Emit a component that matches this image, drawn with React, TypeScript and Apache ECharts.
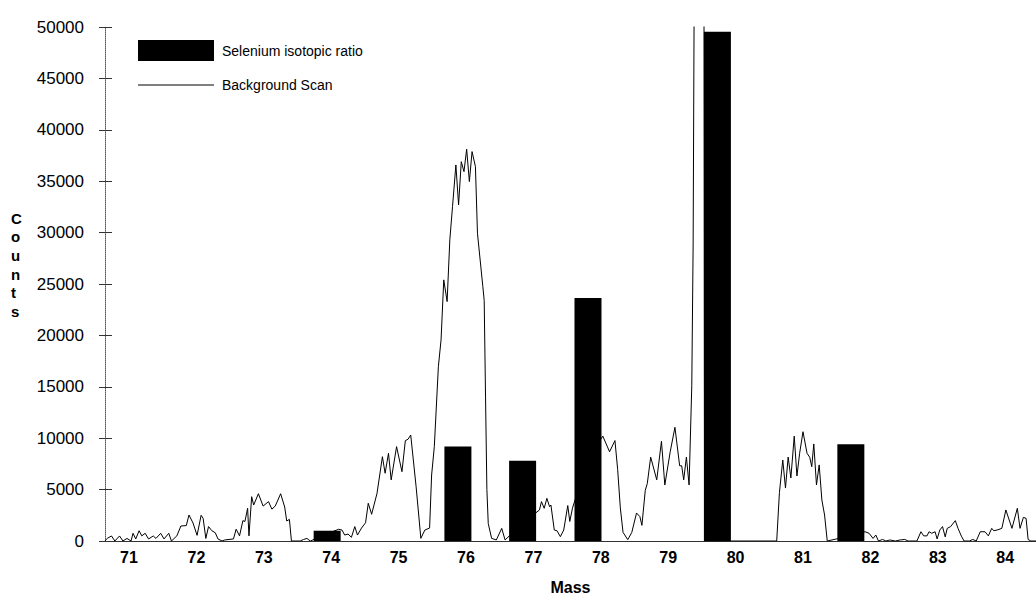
import React, { useEffect, useRef } from "react";
import * as echarts from "echarts";

const xTickLabels = [71, 72, 73, 74, 75, 76, 77, 78, 79, 80, 81, 82, 83, 84];
const yTicks = [0, 5000, 10000, 15000, 20000, 25000, 30000, 35000, 40000, 45000, 50000];

const barMass = [73.94, 75.88, 76.84, 77.81, 79.73, 81.71];
const barCounts = [1000, 9200, 7800, 23650, 49550, 9400];

const scanMass = [
  70.64, 70.68, 70.74, 70.79, 70.86, 70.91, 70.97, 71.03, 71.06, 71.10,
  71.15, 71.19, 71.24, 71.29, 71.36, 71.40, 71.47, 71.52, 71.59, 71.63,
  71.71, 71.77, 71.85, 71.89, 71.95, 72.01, 72.07, 72.10, 72.14, 72.18,
  72.23, 72.28, 72.32, 72.38, 72.42, 72.55, 72.59, 72.64, 72.69, 72.72,
  72.76, 72.78, 72.82, 72.85, 72.92, 72.99, 73.07, 73.12, 73.17, 73.25,
  73.31, 73.34, 73.38, 73.41, 73.54, 73.59, 73.64, 73.69, 73.90, 74.11,
  74.16, 74.20, 74.25, 74.30, 74.35, 74.39, 74.45, 74.51, 74.55, 74.60,
  74.68, 74.76, 74.80, 74.85, 74.89, 74.97, 75.05, 75.10, 75.14, 75.18,
  75.26, 75.33, 75.39, 75.46, 75.49, 75.53, 75.59, 75.63, 75.67, 75.72,
  75.76, 75.80, 75.85, 75.89, 75.93, 75.97, 76.01, 76.05, 76.09, 76.14,
  76.17, 76.25, 76.27, 76.29, 76.31, 76.33, 76.38, 76.45, 76.53, 76.58,
  76.80, 77.09, 77.12, 77.16, 77.20, 77.24, 77.26, 77.31, 77.35, 77.40,
  77.45, 77.51, 77.54, 77.58, 77.81, 78.03, 78.13, 78.21, 78.25, 78.29,
  78.33, 78.40, 78.46, 78.53, 78.58, 78.61, 78.66, 78.69, 78.74, 78.83,
  78.90, 78.95, 79.03, 79.10, 79.17, 79.20, 79.23, 79.27, 79.31, 79.35,
  79.37, 79.39, 79.53, 79.54, 80.61, 80.65, 80.70, 80.74, 80.78, 80.82,
  80.87, 80.91, 80.95, 81.00, 81.06, 81.10, 81.13, 81.16, 81.20, 81.24,
  81.28, 81.32, 81.36, 81.70, 81.92, 81.98, 82.04, 82.08, 82.12, 82.18,
  82.23, 82.29, 82.37, 82.44, 82.51, 82.56, 82.69, 82.75, 82.79, 82.84,
  82.87, 82.91, 82.96, 82.99, 83.03, 83.07, 83.11, 83.14, 83.19, 83.26,
  83.30, 83.35, 83.39, 83.47, 83.52, 83.57, 83.63, 83.70, 83.75, 83.80,
  83.83, 83.88, 83.95, 84.01, 84.10, 84.18, 84.22, 84.27, 84.31, 84.34,
  84.38, 84.46,
];

const scanCounts = [
  0, 260, 490, 0, 490, 0, 250, 0, 750, 200,
  1000, 500, 750, 200, 490, 250, 750, 200, 750, 0,
  500, 1460, 1500, 2530, 1750, 550, 2500, 2200, 250, 1400,
  1000, 800, 200, 0, 100, 200, 1150, 500, 1980, 1900,
  3180, 500, 4310, 3500, 4600, 3400, 3830, 3100, 3400, 4600,
  3300, 1950, 2100, 0, 0, 150, 250, 0, 600, 1140,
  1070, 580, 680, 360, 1400, 580, 1260, 1780, 3670, 2600,
  4640, 8200, 6590, 8530, 5940, 9180, 6740, 9760, 9900, 10310,
  5280, 260, 1070, 1260, 6420, 9180, 16960, 19560, 25400, 23290,
  29290, 32530, 36580, 32690, 36900, 35930, 38110, 34960, 37880, 36420,
  29940, 24740, 23400, 14000, 5000, 1700, 260, 100, 1230, 100,
  1500, 3020, 3830, 3180, 4150, 3340, 3500, 1070, 1000, 420,
  1070, 3450, 1900, 3200, 8000, 10200, 8680, 9770, 6970, 3220,
  840, 130, 840, 2720, 2370, 1520, 4920, 5600, 8160, 5950,
  9700, 5450, 8680, 11060, 7320, 7320, 5950, 8160, 5450, 15150,
  28800, 60000, 60000, 0, 0, 4700, 7880, 5150, 8170, 6130,
  10200, 6320, 8530, 10630, 8530, 8140, 7230, 9440, 5450, 7400,
  3990, 2530, 0, 500, 900, 750, 250, 580, 0, 150,
  0, 100, 0, 100, 150, 0, 0, 900, 500, 500,
  900, 750, 900, 200, 1070, 1400, 400, 1230, 1400, 1980,
  1230, 470, 0, 0, 150, 0, 900, 900, 500, 1230,
  1000, 1070, 1230, 3020, 1230, 3180, 1230, 2300, 2200, 150,
  0, 0,
];

const FONT = "'Liberation Sans', Arial, Helvetica, sans-serif";

export default function App() {
  const ref = useRef<HTMLDivElement>(null);

  useEffect(() => {
    if (!ref.current) return;
    const chart = echarts.init(ref.current, undefined, { renderer: "svg" });

    const scanData = scanMass.map((m, i) => [m, scanCounts[i]]);
    const barData = barMass.map((m, i) => [m, barCounts[i]]);
    const yMin = yTicks[0];
    const yMax = yTicks[yTicks.length - 1];
    const yStep = yTicks[1] - yTicks[0];

    chart.setOption({
      animation: false,
      backgroundColor: "#ffffff",
      textStyle: { fontFamily: FONT },
      grid: {
        left: 105,
        right: 0,
        top: 27,
        bottom: 55,
        containLabel: false,
        outerBoundsMode: "none",
      },
      legend: {
        orient: "vertical",
        left: 138,
        top: 40,
        padding: 0,
        itemWidth: 76,
        itemHeight: 21,
        itemGap: 17,
        textStyle: { fontFamily: FONT, fontSize: 14, color: "#000", padding: [0, 0, 0, 3] },
        data: [
          { name: "Selenium isotopic ratio", icon: "rect" },
          { name: "Background Scan", icon: "path://M0,0H76V1H0Z" },
        ],
      },
      xAxis: {
        type: "value",
        min: 70.644,
        max: 84.457,
        name: "Mass",
        nameLocation: "middle",
        nameGap: 38,
        nameTextStyle: { fontFamily: FONT, fontSize: 16, fontWeight: "bold", color: "#000" },
        axisLine: { show: true, onZero: false, lineStyle: { color: "#333", width: 1 } },
        axisTick: { show: false },
        splitLine: { show: false },
        axisLabel: {
          customValues: xTickLabels,
          margin: 8,
          fontFamily: FONT,
          fontSize: 16,
          fontWeight: "bold",
          color: "#000",
          formatter: (v: number) => String(Math.round(v)),
        },
      },
      yAxis: [
        {
          type: "value",
          min: yMin,
          max: yMax,
          interval: yStep,
          axisLine: { show: true, lineStyle: { color: "#555", width: 1, type: "dotted" } },
          axisTick: { show: true, inside: false, length: 6, lineStyle: { color: "#333", width: 1 } },
          splitLine: { show: false },
          axisLabel: {
            margin: 21,
            fontFamily: FONT,
            fontSize: 17,
            color: "#000",
            formatter: (v: number) => String(v),
          },
        },
        {
          type: "value",
          position: "left",
          min: yMin,
          max: yMax,
          interval: yStep,
          axisLine: { show: false },
          axisTick: { show: true, inside: true, length: 7, lineStyle: { color: "#333", width: 1 } },
          axisLabel: { show: false },
          splitLine: { show: false },
        },
      ],
      graphic: [
        {
          type: "text",
          left: 11,
          top: 209,
          style: {
            text: "C\no\nu\nn\nt\ns",
            font: `bold 15px ${FONT}`,
            fill: "#000",
            lineHeight: 18.6,
            align: "center",
          },
        },
      ],
      series: [
        {
          name: "Background Scan",
          type: "line",
          data: scanData,
          showSymbol: false,
          symbol: "none",
          clip: true,
          z: 2,
          lineStyle: { color: "#000", width: 1 },
          itemStyle: { color: "#000" },
        },
        {
          name: "Selenium isotopic ratio",
          type: "bar",
          data: barData,
          barWidth: 27,
          z: 3,
          itemStyle: { color: "#000" },
        },
      ],
    });

    return () => chart.dispose();
  }, []);

  return (
    <div
      ref={ref}
      style={{ position: "absolute", left: 0, top: 0, width: 1036, height: 596 }}
    />
  );
}
